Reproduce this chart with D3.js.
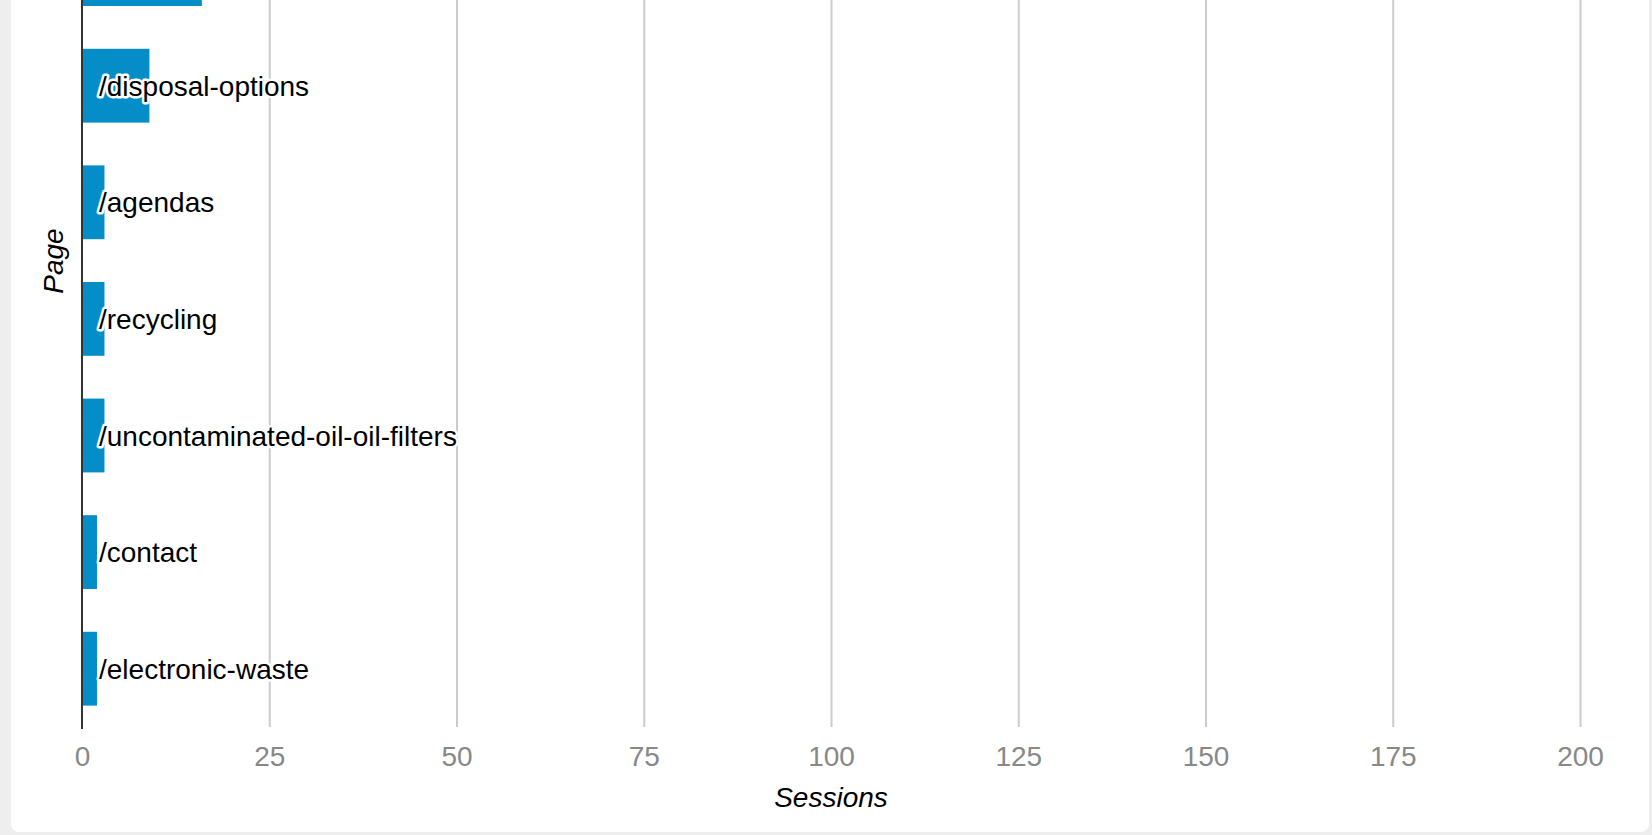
<!DOCTYPE html>
<html>
<head>
<meta charset="utf-8">
<script src="https://cdn.jsdelivr.net/npm/d3@7"></script>
<style>
  body { margin: 0; background: #eeeeee; overflow: hidden; }
  svg { display: block; font-family: Arial, "Liberation Sans", sans-serif; }
</style>
</head>
<body>
<svg width="1652" height="835"></svg>
<script>
// the top bar is scrolled out of view, its label is not visible
var pages = ["", "/disposal-options", "/agendas", "/recycling",
    "/uncontaminated-oil-oil-filters", "/contact", "/electronic-waste"];
var sessions = [16, 9, 3, 3, 3, 2, 2];
var xTicks = [0, 25, 50, 75, 100, 125, 150, 175, 200];

function main(){
    var svg = d3.select("svg");

    var left = 82, right = 1580, bottom = 727, step = 116.6;

    // white card, its top goes past the window
    svg.append("rect")
        .attr("x", 11).attr("y", -20)
        .attr("width", 1638).attr("height", 852)
        .attr("rx", 8)
        .attr("fill", "#ffffff");

    var xScale = d3.scaleLinear().domain([0, 200]).range([left, right]);
    var yScale = d3.scaleBand()
        .domain(pages)
        .range([bottom - pages.length * step, bottom])
        .paddingInner(0.367)
        .paddingOuter(0.1835);

    // gridlines
    svg.append("g")
        .attr("transform", "translate(0," + bottom + ")")
        .call(d3.axisBottom(xScale).tickValues(xTicks).tickSize(-bottom - 5).tickFormat(""))
        .call(function(g){
            g.select(".domain").remove();
            g.selectAll(".tick line").attr("stroke", "#cccccc").attr("stroke-width", 2);
            g.selectAll(".tick").filter(function(d){ return d === 0; }).remove();
        });

    // tick labels
    svg.append("g")
        .attr("transform", "translate(0," + bottom + ")")
        .call(d3.axisBottom(xScale).tickValues(xTicks).tickSize(0).tickPadding(19))
        .call(function(g){
            g.select(".domain").remove();
            g.selectAll("text")
                .attr("font-size", "28px")
                .attr("font-family", "Arial, 'Liberation Sans', sans-serif")
                .attr("fill", "#888888");
        });

    var data = pages.map(function(p, i){ return {page: p, value: sessions[i]}; });

    svg.selectAll(".bar").data(data)
        .enter().append("rect")
        .attr("class", "bar")
        .attr("x", xScale(0))
        .attr("y", function(d){ return yScale(d.page); })
        .attr("width", function(d){ return xScale(d.value) - xScale(0); })
        .attr("height", yScale.bandwidth())
        .attr("fill", "#058dc7");

    svg.selectAll(".label").data(data)
        .enter().append("text")
        .attr("class", "label")
        .attr("x", 99)
        .attr("y", function(d){ return yScale(d.page) + yScale.bandwidth() / 2 + 10; })
        .attr("font-size", "28px")
        .attr("fill", "#000000")
        .attr("stroke", "#ffffff")
        .attr("stroke-width", 5)
        .attr("paint-order", "stroke")
        .attr("stroke-linejoin", "round")
        .text(function(d){ return d.page; });

    // y axis line
    svg.append("line")
        .attr("x1", left).attr("x2", left)
        .attr("y1", -5).attr("y2", bottom + 2)
        .attr("stroke", "#333333")
        .attr("stroke-width", 2);

    svg.append("text")
        .attr("x", (left + right) / 2)
        .attr("y", 807)
        .attr("text-anchor", "middle")
        .attr("font-size", "28px")
        .attr("font-style", "italic")
        .text("Sessions");

    svg.append("text")
        .attr("transform", "rotate(-90)")
        .attr("x", -261)
        .attr("y", 63)
        .attr("text-anchor", "middle")
        .attr("font-size", "28px")
        .attr("font-style", "italic")
        .text("Page");
}

main();
</script>
</body>
</html>
